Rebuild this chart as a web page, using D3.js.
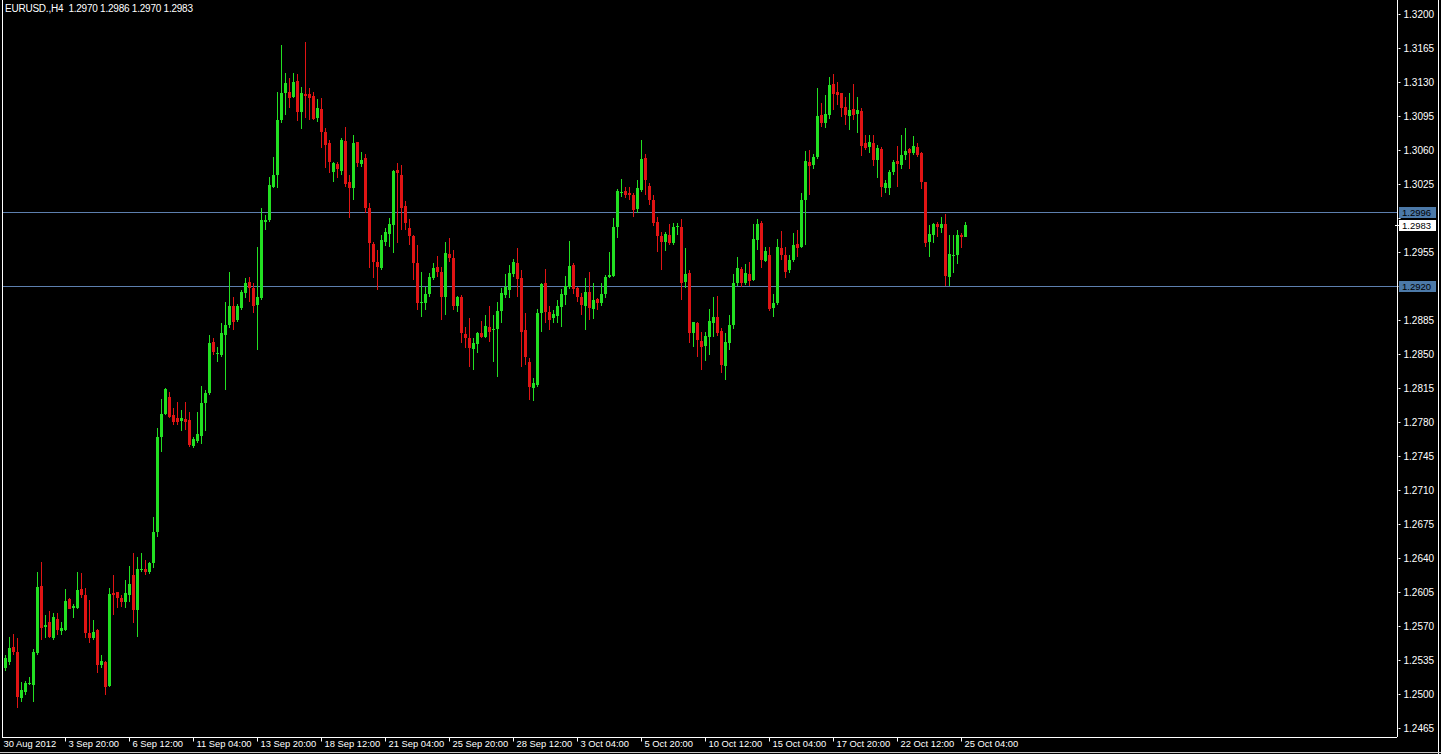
<!DOCTYPE html>
<html><head><meta charset="utf-8">
<script src="https://cdn.jsdelivr.net/npm/d3@7"></script>
<style>
html,body{margin:0;padding:0;background:#000;overflow:hidden}
svg{display:block}
</style></head><body>
<svg id="c" width="1441" height="754"></svg>
<script>
const chartTitle = "EURUSD.,H4";
const open = [
1.2527,1.2533,1.2548,1.2543,1.2496,1.2502,1.2510,1.2509,1.2542,1.2611,
1.2569,1.2574,1.2558,1.2577,1.2565,1.2566,1.2598,1.2589,1.2589,1.2608,
1.2602,1.2563,1.2558,1.2566,1.2530,1.2533,1.2508,1.2604,1.2605,1.2599,
1.2595,1.2602,1.2622,1.2586,1.2628,1.2629,1.2626,1.2635,1.2667,1.2765,
1.2788,1.2806,1.2787,1.2784,1.2781,1.2783,1.2782,1.2755,1.2760,1.2766,
1.2800,1.2810,1.2862,1.2850,1.2849,1.2870,1.2880,1.2899,1.2885,1.2897,
1.2913,1.2924,1.2918,1.2900,1.2908,1.2986,1.2988,1.3022,1.3034,1.3091,
1.3119,1.3120,1.3115,1.3131,1.3099,1.3118,1.3118,1.3116,1.3093,1.3102,
1.3079,1.3067,1.3037,1.3046,1.3038,1.3069,1.3027,1.3021,1.3068,1.3046,
1.3052,1.3000,1.2963,1.2945,1.2939,1.2965,1.2974,1.2983,1.3039,1.3034,
1.3002,1.2980,1.2971,1.2944,1.2902,1.2902,1.2912,1.2928,1.2940,1.2934,
1.2909,1.2953,1.2949,1.2899,1.2909,1.2871,1.2866,1.2855,1.2860,1.2872,
1.2868,1.2878,1.2875,1.2876,1.2894,1.2911,1.2916,1.2932,1.2944,1.2928,
1.2875,1.2842,1.2815,1.2818,1.2892,1.2923,1.2893,1.2887,1.2889,1.2898,
1.2911,1.2919,1.2942,1.2918,1.2909,1.2899,1.2914,1.2896,1.2907,1.2902,
1.2912,1.2929,1.2930,1.2981,1.3016,1.3018,1.3016,1.3014,1.2999,1.3019,
1.3052,1.3023,1.3009,1.2986,1.2971,1.2965,1.2973,1.2964,1.2981,1.2981,
1.2924,1.2933,1.2872,1.2882,1.2863,1.2858,1.2868,1.2882,1.2888,1.2874,
1.2838,1.2861,1.2880,1.2923,1.2938,1.2923,1.2932,1.2926,1.2967,1.2985,
1.2946,1.2952,1.2897,1.2902,1.2959,1.2952,1.2936,1.2947,1.2963,1.2960,
1.3009,1.3048,1.3045,1.3053,1.3096,1.3088,1.3096,1.3128,1.3120,1.3119,
1.3104,1.3095,1.3102,1.3097,1.3100,1.3067,1.3063,1.3067,1.3050,1.3061,
1.3021,1.3021,1.3037,1.3049,1.3045,1.3055,1.3061,1.3057,1.3063,1.3057,
1.3027,1.2965,1.2972,1.2984,1.2980,1.2984,1.2929,1.2951,1.2952,1.2973,
1.2970];
const high = [
1.2540,1.2559,1.2562,1.2558,1.2512,1.2513,1.2518,1.2546,1.2626,1.2636,
1.2581,1.2585,1.2583,1.2583,1.2574,1.2608,1.2599,1.2593,1.2626,1.2625,
1.2609,1.2597,1.2576,1.2567,1.2540,1.2534,1.2609,1.2623,1.2605,1.2602,
1.2617,1.2632,1.2645,1.2641,1.2645,1.2638,1.2636,1.2682,1.2774,1.2804,
1.2815,1.2811,1.2794,1.2801,1.2792,1.2801,1.2790,1.2765,1.2790,1.2817,
1.2813,1.2870,1.2866,1.2857,1.2882,1.2904,1.2934,1.2909,1.2901,1.2916,
1.2928,1.2929,1.2923,1.2960,1.3000,1.2993,1.3032,1.3053,1.3120,1.3168,
1.3139,1.3134,1.3139,1.3138,1.3125,1.3171,1.3124,1.3120,1.3112,1.3114,
1.3083,1.3070,1.3048,1.3048,1.3072,1.3084,1.3034,1.3075,1.3068,1.3058,
1.3056,1.3005,1.2965,1.2957,1.2972,1.2980,1.2990,1.3039,1.3047,1.3045,
1.3008,1.2989,1.2972,1.2962,1.2934,1.2919,1.2933,1.2944,1.2951,1.2940,
1.2965,1.2969,1.2957,1.2910,1.2911,1.2878,1.2887,1.2866,1.2873,1.2884,
1.2890,1.2899,1.2890,1.2904,1.2918,1.2932,1.2942,1.2948,1.2959,1.2936,
1.2892,1.2846,1.2825,1.2896,1.2923,1.2938,1.2899,1.2895,1.2906,1.2917,
1.2930,1.2966,1.2944,1.2919,1.2913,1.2928,1.2934,1.2923,1.2908,1.2923,
1.2931,1.2955,1.2990,1.3020,1.3030,1.3022,1.3022,1.3016,1.3029,1.3070,
1.3056,1.3026,1.3014,1.2991,1.2976,1.2976,1.2984,1.2985,1.2985,1.2989,
1.2959,1.2936,1.2883,1.2883,1.2873,1.2873,1.2896,1.2909,1.2910,1.2877,
1.2872,1.2890,1.2932,1.2950,1.2940,1.2943,1.2945,1.2984,1.2989,1.2987,
1.2960,1.2960,1.2912,1.2968,1.2977,1.2960,1.2952,1.2975,1.2978,1.3016,
1.3059,1.3060,1.3056,1.3124,1.3108,1.3117,1.3135,1.3138,1.3130,1.3119,
1.3115,1.3119,1.3128,1.3115,1.3103,1.3075,1.3075,1.3075,1.3065,1.3063,
1.3029,1.3039,1.3050,1.3064,1.3075,1.3083,1.3062,1.3074,1.3067,1.3058,
1.3027,1.2983,1.2985,1.2986,1.2991,1.2994,1.2972,1.2972,1.2978,1.2975,
1.2986];
const low = [
1.2524,1.2530,1.2540,1.2486,1.2492,1.2499,1.2509,1.2492,1.2540,1.2556,
1.2558,1.2558,1.2556,1.2561,1.2561,1.2565,1.2587,1.2578,1.2588,1.2599,
1.2558,1.2553,1.2556,1.2522,1.2527,1.2499,1.2507,1.2581,1.2589,1.2590,
1.2589,1.2595,1.2573,1.2559,1.2626,1.2623,1.2624,1.2630,1.2662,1.2749,
1.2787,1.2784,1.2777,1.2777,1.2771,1.2772,1.2754,1.2753,1.2758,1.2757,
1.2771,1.2808,1.2849,1.2842,1.2847,1.2813,1.2877,1.2875,1.2883,1.2895,
1.2908,1.2904,1.2892,1.2854,1.2906,1.2978,1.2986,1.3021,1.3021,1.3088,
1.3096,1.3103,1.3114,1.3090,1.3082,1.3093,1.3091,1.3091,1.3089,1.3062,
1.3041,1.3036,1.3027,1.3031,1.3034,1.3022,1.2990,1.3009,1.3043,1.3042,
1.2995,1.2939,1.2928,1.2916,1.2936,1.2961,1.2960,1.2954,1.2964,1.2978,
1.2978,1.2962,1.2926,1.2895,1.2888,1.2895,1.2909,1.2926,1.2929,1.2885,
1.2890,1.2945,1.2895,1.2893,1.2861,1.2856,1.2837,1.2834,1.2851,1.2866,
1.2866,1.2862,1.2842,1.2826,1.2882,1.2908,1.2908,1.2929,1.2909,1.2837,
1.2839,1.2803,1.2802,1.2816,1.2873,1.2882,1.2875,1.2882,1.2882,1.2878,
1.2900,1.2917,1.2912,1.2904,1.2890,1.2875,1.2885,1.2886,1.2895,1.2899,
1.2908,1.2928,1.2929,1.2969,1.3012,1.3011,1.3009,1.2991,1.2995,1.3017,
1.3014,1.3003,1.2982,1.2955,1.2936,1.2956,1.2962,1.2962,1.2973,1.2906,
1.2918,1.2861,1.2857,1.2847,1.2834,1.2843,1.2849,1.2868,1.2869,1.2830,
1.2823,1.2854,1.2876,1.2920,1.2919,1.2921,1.2920,1.2925,1.2957,1.2939,
1.2945,1.2894,1.2888,1.2900,1.2947,1.2928,1.2933,1.2945,1.2950,1.2959,
1.2962,1.3014,1.3040,1.3051,1.3084,1.3083,1.3092,1.3101,1.3106,1.3094,
1.3086,1.3081,1.3091,1.3078,1.3054,1.3060,1.3057,1.3044,1.3031,1.3012,
1.3016,1.3014,1.3034,1.3022,1.3040,1.3050,1.3040,1.3055,1.3053,1.3020,
1.2960,1.2950,1.2964,1.2970,1.2975,1.2920,1.2920,1.2933,1.2943,1.2959,
1.2970];
const close = [
1.2537,1.2547,1.2543,1.2497,1.2504,1.2511,1.2511,1.2543,1.2610,1.2568,
1.2571,1.2559,1.2579,1.2566,1.2568,1.2596,1.2588,1.2591,1.2607,1.2602,
1.2563,1.2558,1.2564,1.2530,1.2534,1.2507,1.2603,1.2602,1.2599,1.2595,
1.2604,1.2613,1.2586,1.2629,1.2629,1.2626,1.2635,1.2667,1.2765,1.2788,
1.2814,1.2785,1.2780,1.2780,1.2784,1.2780,1.2756,1.2763,1.2768,1.2800,
1.2810,1.2861,1.2852,1.2851,1.2872,1.2880,1.2899,1.2883,1.2899,1.2914,
1.2923,1.2918,1.2899,1.2909,1.2988,1.2988,1.3024,1.3034,1.3091,1.3119,
1.3129,1.3114,1.3130,1.3099,1.3119,1.3116,1.3114,1.3092,1.3103,1.3079,
1.3065,1.3048,1.3047,1.3040,1.3070,1.3025,1.3021,1.3067,1.3047,1.3050,
1.3000,1.2964,1.2945,1.2940,1.2967,1.2976,1.2984,1.3038,1.3036,1.3000,
1.2985,1.2971,1.2944,1.2902,1.2904,1.2912,1.2929,1.2939,1.2934,1.2909,
1.2954,1.2949,1.2899,1.2909,1.2872,1.2866,1.2856,1.2861,1.2872,1.2867,
1.2879,1.2873,1.2876,1.2894,1.2913,1.2919,1.2933,1.2945,1.2927,1.2873,
1.2847,1.2816,1.2820,1.2892,1.2922,1.2893,1.2885,1.2891,1.2899,1.2912,
1.2920,1.2941,1.2917,1.2909,1.2900,1.2914,1.2897,1.2906,1.2903,1.2912,
1.2929,1.2931,1.2981,1.3018,1.3017,1.3014,1.3014,1.2998,1.3021,1.3051,
1.3029,1.3009,1.2985,1.2971,1.2965,1.2974,1.2964,1.2981,1.2982,1.2923,
1.2932,1.2872,1.2883,1.2864,1.2857,1.2869,1.2884,1.2888,1.2872,1.2839,
1.2862,1.2880,1.2923,1.2939,1.2923,1.2933,1.2925,1.2968,1.2984,1.2947,
1.2956,1.2896,1.2903,1.2960,1.2952,1.2934,1.2947,1.2962,1.2959,1.3009,
1.3049,1.3044,1.3053,1.3095,1.3088,1.3097,1.3127,1.3118,1.3117,1.3103,
1.3096,1.3101,1.3096,1.3101,1.3064,1.3062,1.3068,1.3050,1.3062,1.3022,
1.3026,1.3037,1.3048,1.3046,1.3055,1.3059,1.3057,1.3064,1.3055,1.3027,
1.2964,1.2974,1.2984,1.2981,1.2984,1.2930,1.2953,1.2952,1.2973,1.2970,
1.2983];
const timeLabels = ["30 Aug 2012","3 Sep 20:00","6 Sep 12:00","11 Sep 04:00","13 Sep 20:00","18 Sep 12:00","21 Sep 04:00","25 Sep 20:00","28 Sep 12:00","3 Oct 04:00","5 Oct 20:00","10 Oct 12:00","15 Oct 04:00","17 Oct 20:00","22 Oct 12:00","25 Oct 04:00"];
const priceTicks = [1.2465,1.2500,1.2535,1.2570,1.2605,1.2640,1.2675,1.2710,1.2745,1.2780,1.2815,1.2850,1.2885,1.2920,1.2955,1.2990,1.3025,1.3060,1.3095,1.3130,1.3165,1.3200];
const levelLines = [1.2996, 1.2920];
const bidPrice = 1.2983;

const fmt = d3.format(".4f");
const FONT = '"Liberation Sans",Arial,sans-serif';
const svg = d3.select("#c");
const W = 1441, H = 754;
const plotL = 2, plotR = 1397, plotB = 737;
svg.append("rect").attr("width", W).attr("height", H).attr("fill", "#000");

const n = open.length;
const x = d3.scaleLinear().domain([0, n - 1]).range([5, 5 + 4 * (n - 1)]);
const y = d3.scaleLinear().domain([1.2465, 1.3200]).range([728, 14]);

// frame
svg.append("line").attr("x1", plotL + 0.5).attr("x2", plotL + 0.5).attr("y1", 0).attr("y2", plotB).attr("stroke", "#fff");
svg.append("line").attr("x1", W - 2.5).attr("x2", W - 2.5).attr("y1", 0).attr("y2", H).attr("stroke", "#fff");
svg.append("line").attr("x1", 0).attr("x2", W).attr("y1", H - 1.5).attr("y2", H - 1.5).attr("stroke", "#c8c8c8");

// level lines
svg.append("g").selectAll("line").data(levelLines).join("line")
  .attr("x1", plotL + 1).attr("x2", plotR)
  .attr("y1", d => Math.round(y(d)) + 0.5).attr("y2", d => Math.round(y(d)) + 0.5)
  .attr("stroke", "#5d7fae").attr("stroke-width", 1);

// candles
const up = "#22e022", dn = "#e01414";
const idx = d3.range(n);
const g = svg.append("g").attr("shape-rendering", "crispEdges");
g.selectAll("rect.w").data(idx).join("rect").attr("class", "w")
  .attr("x", i => Math.round(x(i)))
  .attr("width", 1)
  .attr("y", i => Math.round(y(high[i])))
  .attr("height", i => Math.max(1, Math.round(y(low[i])) - Math.round(y(high[i]))))
  .attr("fill", i => close[i] >= open[i] ? up : dn);
g.selectAll("rect.b").data(idx).join("rect").attr("class", "b")
  .attr("x", i => Math.round(x(i)) - 1)
  .attr("width", 3)
  .attr("y", i => Math.round(y(Math.max(open[i], close[i]))))
  .attr("height", i => Math.max(1, Math.round(y(Math.min(open[i], close[i]))) - Math.round(y(Math.max(open[i], close[i])))))
  .attr("fill", i => close[i] >= open[i] ? up : dn);

// right price axis
const boxed = levelLines.concat([bidPrice]).map(v => y(v));
const ya = svg.append("g").attr("transform", `translate(${plotR + 0.5},0)`)
  .call(d3.axisRight(y).tickValues(priceTicks).tickFormat(fmt).tickSize(3).tickPadding(3));
ya.select(".domain").attr("stroke", "#fff").attr("d", `M0,0V${plotB}`);
ya.selectAll(".tick line").attr("stroke", "#fff").attr("x1", 1);
ya.selectAll(".tick text").attr("fill", "#fff").style("font-size", "10px").style("font-family", FONT)
  .attr("display", d => boxed.some(b => Math.abs(b - y(d)) < 11) ? "none" : null);

// level labels
const lab = svg.append("g").attr("shape-rendering", "crispEdges");
function priceBox(v, bg) {
  const yy = Math.round(y(v));
  lab.append("rect").attr("x", plotR + 2).attr("y", yy - 5).attr("width", 37).attr("height", 11).attr("fill", bg);
  lab.append("text").attr("x", plotR + 5).attr("y", yy + 0.5).attr("dy", "0.35em").attr("fill", "#000")
    .style("font-size", "9.5px").style("font-family", FONT).text(fmt(v));
}
levelLines.forEach(v => priceBox(v, "#4c79a8"));
lab.append("line").attr("x1", plotR - 2).attr("x2", plotR + 2)
  .attr("y1", Math.round(y(bidPrice)) + 0.5).attr("y2", Math.round(y(bidPrice)) + 0.5).attr("stroke", "#fff");
priceBox(bidPrice, "#fff");

// time axis
const tIdx = timeLabels.map((d, k) => k * 16);
const xa = svg.append("g").attr("transform", `translate(0,${plotB + 0.5})`)
  .call(d3.axisBottom(x).tickValues(tIdx).tickFormat((d, k) => timeLabels[k]).tickSize(4));
xa.select(".domain").attr("stroke", "#fff").attr("d", `M${plotL},0H${plotR}`);
xa.selectAll(".tick line").attr("stroke", "#fff").attr("transform", "translate(-4,0)").attr("opacity", (d, k) => k === 0 ? 0 : 1);
xa.selectAll(".tick text").attr("fill", "#fff").attr("text-anchor", "start")
  .attr("x", (d, k) => k === 0 ? -2 : -1).attr("y", 3).attr("dy", "0.71em")
  .style("font-size", "9.4px").style("font-family", FONT);

// header
svg.append("text").attr("x", 5).attr("y", 12).attr("fill", "#fff")
  .attr("textLength", 188).attr("lengthAdjust", "spacing")
  .style("font-size", "10px").style("font-family", FONT).style("white-space", "pre")
  .text(`${chartTitle}  ${fmt(open[n-1])} ${fmt(high[n-1])} ${fmt(low[n-1])} ${fmt(close[n-1])}`);
</script>
</body></html>
